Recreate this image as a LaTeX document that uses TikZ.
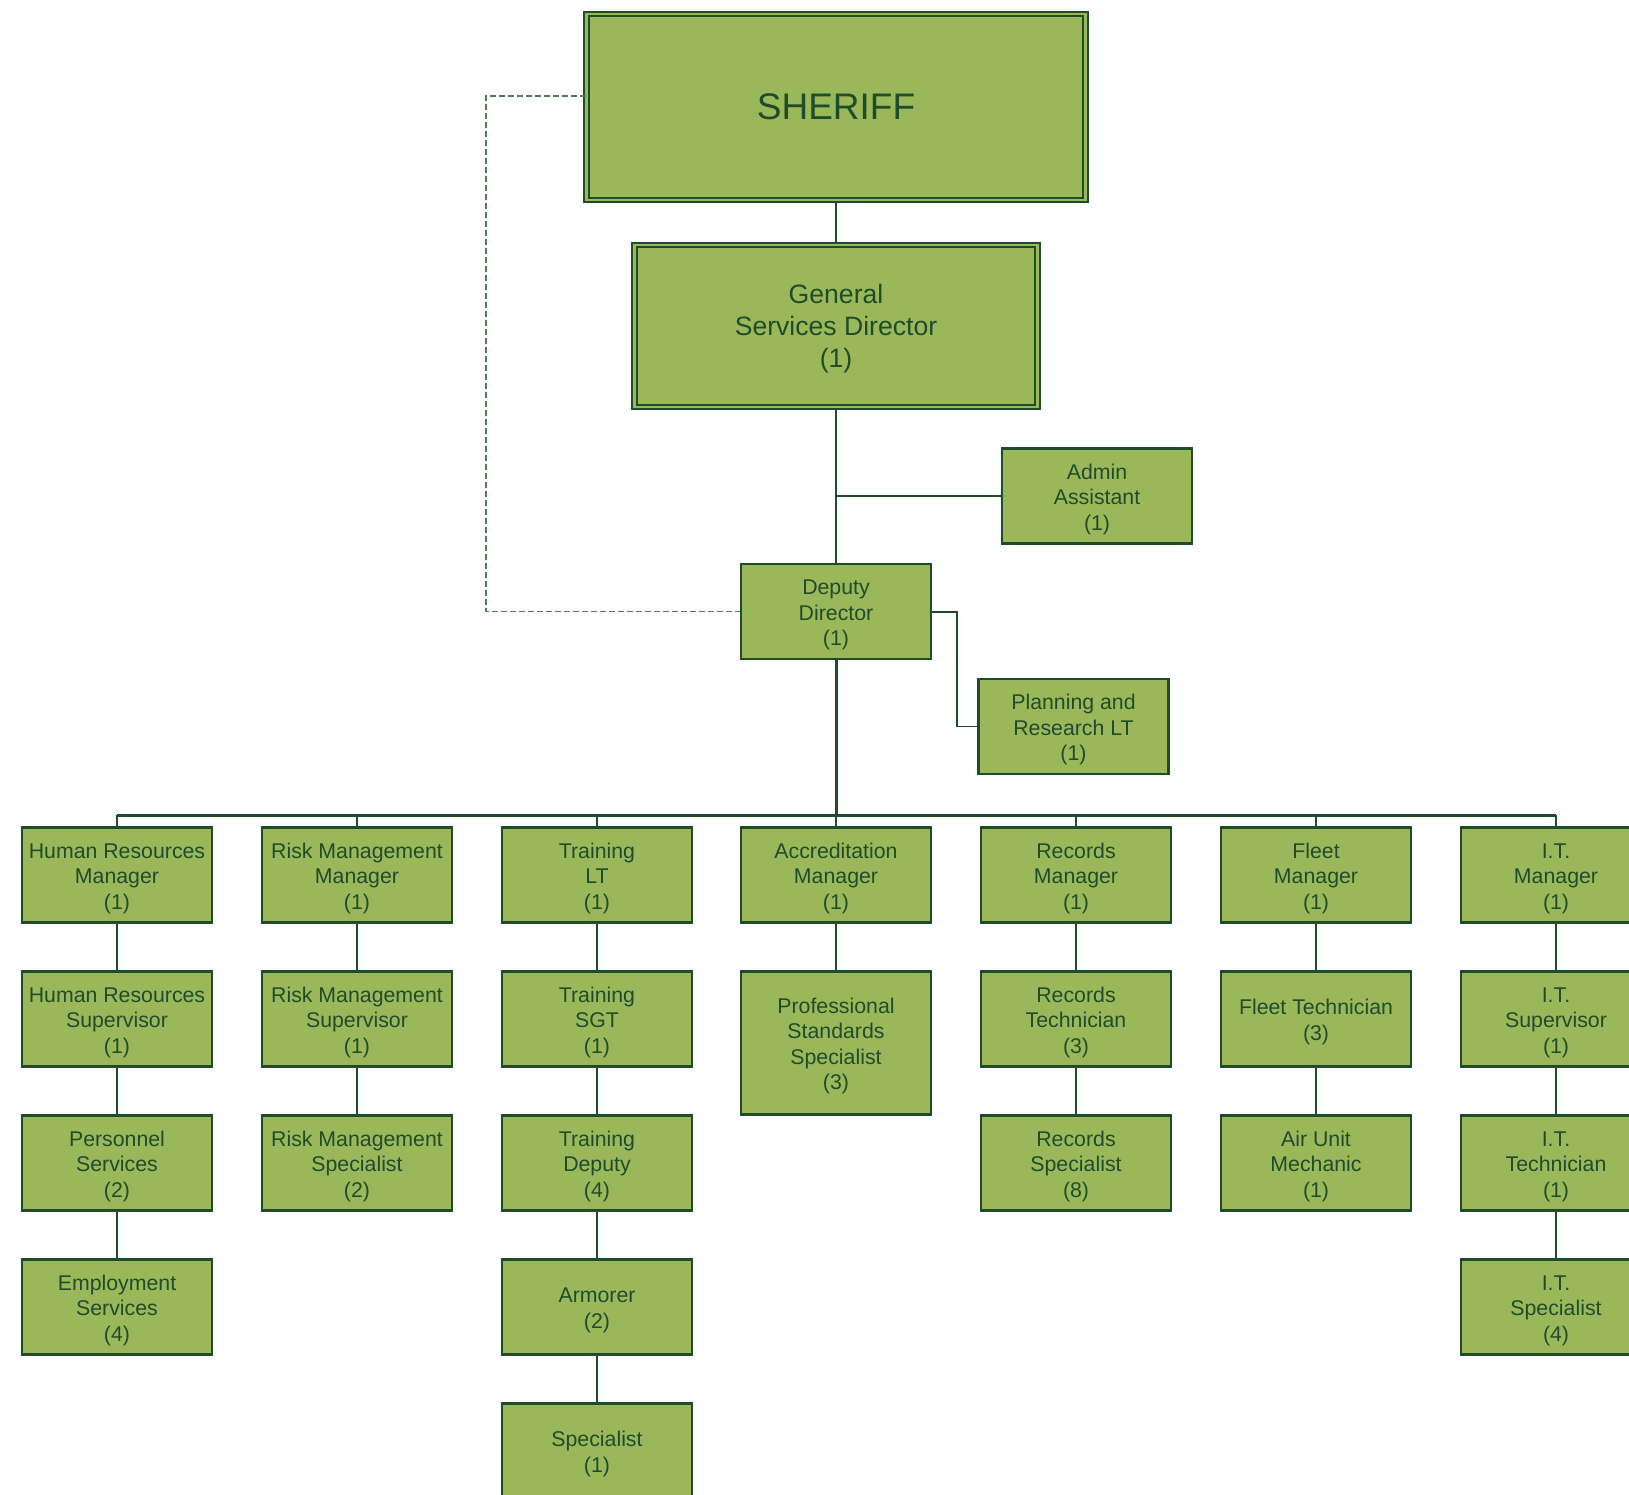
\documentclass[tikz,border=0pt]{standalone}
\usepackage{fontspec}
\setmainfont{Liberation Sans}
\definecolor{boxfill}{HTML}{9AB859}
\definecolor{dk}{HTML}{1F4D2B}
\definecolor{dashc}{HTML}{4F7D5C}
\newcommand{\orgstrut}{\rule{0pt}{21.5pt}}
\newcommand{\bigstrut}{\rule{0pt}{25pt}}
\tikzset{
  pxgrid/.style={x=1pt,y=-1pt},
  orgbox/.style={draw=dk, fill=boxfill, line width=2.2pt, minimum width=190pt, minimum height=95pt,
    inner sep=0pt, align=center, text=dk, font=\fontsize{21.3}{25.5}\selectfont},
  dblbox/.style={draw=dk, fill=boxfill, line width=1.9pt, double=boxfill, double distance=2.4pt,
    inner sep=0pt, align=center, text=dk},
  conn/.style={draw=dk, line width=1.8pt},
  thickconn/.style={draw=dk, line width=3pt},
  dashconn/.style={draw=dashc, line width=1.1pt, dash pattern=on 6pt off 3pt},
}
\begin{document}
\begin{tikzpicture}[pxgrid]
\useasboundingbox (0,0) rectangle (1629,1495);
\clip (0,0) rectangle (1629,1495);
% top
\node[dblbox, minimum width=499pt, minimum height=186pt, font=\fontsize{37}{44}\selectfont] (sheriff) at (836,107) {SHERIFF};
\node[dblbox, minimum width=403pt, minimum height=162pt, font=\fontsize{26.6}{32}\selectfont] (gsd) at (836,326) {\bigstrut General\\Services Director\\(1)};
\node[orgbox] (admin) at (1097,496) {\orgstrut Admin\\Assistant\\(1)};
\node[orgbox] (deputy) at (836,611.5) {\orgstrut Deputy\\Director\\(1)};
\node[orgbox] (plan) at (1073.5,726.5) {\orgstrut Planning and\\Research LT\\(1)};
% column 1
\node[orgbox] (hr1) at (117,875) {\orgstrut Human Resources\\Manager\\(1)};
\node[orgbox] (hr2) at (117,1019) {\orgstrut Human Resources\\Supervisor\\(1)};
\node[orgbox] (hr3) at (117,1163) {\orgstrut Personnel\\Services\\(2)};
\node[orgbox] (hr4) at (117,1307) {\orgstrut Employment\\Services\\(4)};
% column 2
\node[orgbox] (rm1) at (357,875) {\orgstrut Risk Management\\Manager\\(1)};
\node[orgbox] (rm2) at (357,1019) {\orgstrut Risk Management\\Supervisor\\(1)};
\node[orgbox] (rm3) at (357,1163) {\orgstrut Risk Management\\Specialist\\(2)};
% column 3
\node[orgbox] (tr1) at (597,875) {\orgstrut Training\\LT\\(1)};
\node[orgbox] (tr2) at (597,1019) {\orgstrut Training\\SGT\\(1)};
\node[orgbox] (tr3) at (597,1163) {\orgstrut Training\\Deputy\\(4)};
\node[orgbox] (tr4) at (597,1307) {\orgstrut Armorer\\(2)};
\node[orgbox] (tr5) at (597,1451) {\orgstrut Specialist\\(1)};
% column 4
\node[orgbox] (ac1) at (836,875) {\orgstrut Accreditation\\Manager\\(1)};
\node[orgbox, minimum height=143pt] (ac2) at (836,1043) {\orgstrut Professional\\Standards\\Specialist\\(3)};
% column 5
\node[orgbox] (rc1) at (1076,875) {\orgstrut Records\\Manager\\(1)};
\node[orgbox] (rc2) at (1076,1019) {\orgstrut Records\\Technician\\(3)};
\node[orgbox] (rc3) at (1076,1163) {\orgstrut Records\\Specialist\\(8)};
% column 6
\node[orgbox] (fl1) at (1316,875) {\orgstrut Fleet\\Manager\\(1)};
\node[orgbox] (fl2) at (1316,1019) {\orgstrut Fleet Technician\\(3)};
\node[orgbox] (fl3) at (1316,1163) {\orgstrut Air Unit\\Mechanic\\(1)};
% column 7
\node[orgbox] (it1) at (1556,875) {\orgstrut I.T.\\Manager\\(1)};
\node[orgbox] (it2) at (1556,1019) {\orgstrut I.T.\\Supervisor\\(1)};
\node[orgbox] (it3) at (1556,1163) {\orgstrut I.T.\\Technician\\(1)};
\node[orgbox] (it4) at (1556,1307) {\orgstrut I.T.\\Specialist\\(4)};
% coordinates
\coordinate (dl) at (486,96);
\coordinate (pj) at (957,612);
\coordinate (busl) at (117,815);
\coordinate (busr) at (1556,815);
% connectors top
\draw[conn] (sheriff.south) -- (gsd.north);
\draw[conn] (gsd.south) -- (deputy.north);
\draw[conn] (admin.west) -- (admin.west -| gsd.south);
\draw[conn] (deputy.east |- pj) -- (pj) |- (plan.west);
\draw[dashconn] (dl -| sheriff.west) -- (dl) |- (deputy.west);
% bus
\draw[thickconn] (deputy.south) -- (deputy.south |- busl);
\draw[thickconn] (busl) -- (busr);
\foreach \n in {hr1,rm1,tr1,ac1,rc1,fl1,it1}{
  \draw[conn] (\n.north) -- (\n.north |- busl);
}
% column chains
\draw[conn] (hr1) -- (hr2); \draw[conn] (hr2) -- (hr3); \draw[conn] (hr3) -- (hr4);
\draw[conn] (rm1) -- (rm2); \draw[conn] (rm2) -- (rm3);
\draw[conn] (tr1) -- (tr2); \draw[conn] (tr2) -- (tr3); \draw[conn] (tr3) -- (tr4); \draw[conn] (tr4) -- (tr5);
\draw[conn] (ac1) -- (ac2);
\draw[conn] (rc1) -- (rc2); \draw[conn] (rc2) -- (rc3);
\draw[conn] (fl1) -- (fl2); \draw[conn] (fl2) -- (fl3);
\draw[conn] (it1) -- (it2); \draw[conn] (it2) -- (it3); \draw[conn] (it3) -- (it4);
\end{tikzpicture}
\end{document}
